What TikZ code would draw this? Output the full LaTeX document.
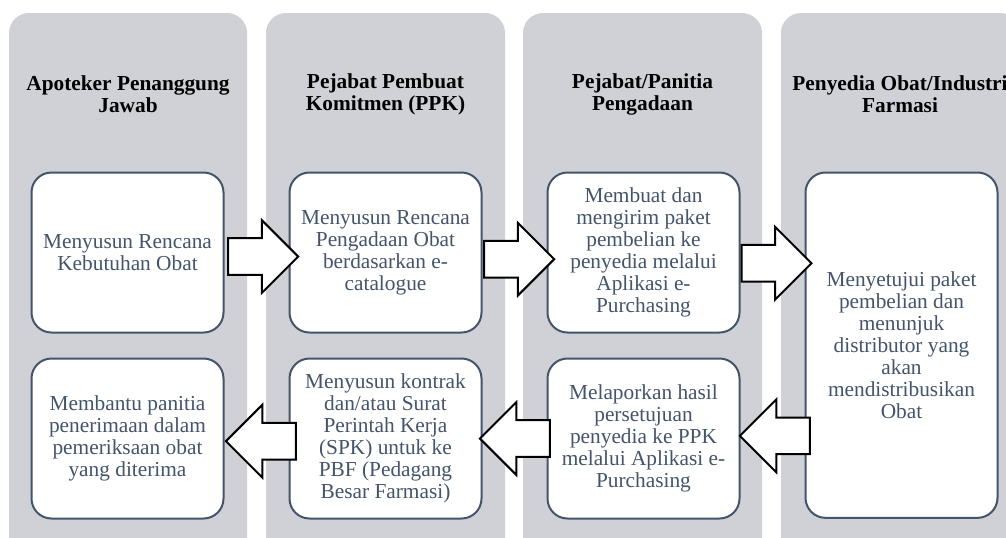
\documentclass[tikz,border=0pt]{standalone}
\usepackage{fontspec}
\setmainfont{Liberation Serif}
\usetikzlibrary{positioning,shapes.arrows}
\definecolor{lanegray}{RGB}{208,209,214}
\definecolor{slate}{RGB}{68,84,106}

\begin{document}
\begin{tikzpicture}[x=0.75pt,y=-0.75pt,
  lane/.style={fill=lanegray, rounded corners=15pt},
  head/.style={font=\fontsize{16}{16.5}\selectfont\bfseries, align=center},
  task/.style={draw=slate, line width=1.5pt, fill=white, rounded corners=15pt,
    text=slate, font=\fontsize{16}{16.5}\selectfont, align=center,
    minimum width=144pt, minimum height=120pt, inner sep=2pt},
  rarrow/.style={single arrow, draw=black, line width=1.5pt, fill=white,
    minimum height=52.5pt, single arrow head extend=13.5pt,
    inner xsep=0pt, inner ysep=13pt},
  larrow/.style={rarrow, shape border rotate=180}]

\useasboundingbox (0,0) rectangle (1006,537);
\clip (0,0) rectangle (1006,537);

% lanes
\fill[lane] (9,13) rectangle (247,580);
\fill[lane] (266,13) rectangle (505,580);
\fill[lane] (523,13) rectangle (762,580);
\fill[lane] (781,13) rectangle (1020,580);

% lane titles
\node[head] (hA) at (128,94) {Apoteker Penanggung\\Jawab};
\node[head] (hB) at (385.5,94) {Pejabat Pembuat\\Komitmen (PPK)};
\node[head] (hC) at (642.5,94) {Pejabat/Panitia\\Pengadaan};
\node[head] (hD) at (900,94) {Penyedia Obat/Industri\\Farmasi};

% steps
\node[task] (a1) at (127.5,252.5) {Menyusun Rencana\\Kebutuhan Obat};
\node[task, right=48pt of a1] (b1) {Menyusun Rencana\\Pengadaan Obat\\berdasarkan e-\\catalogue};
\node[task, right=48pt of b1] (c1) {Membuat dan\\mengirim paket\\pembelian ke\\penyedia melalui\\Aplikasi e-\\Purchasing};
\node[task, minimum height=259pt, anchor=north west] (d1) at ([xshift=48pt]c1.north east)
  {Menyetujui paket\\pembelian dan\\menunjuk\\distributor yang\\akan\\mendistribusikan\\Obat};
\node[task, below=18pt of c1] (c2) {Melaporkan hasil\\persetujuan\\penyedia ke PPK\\melalui Aplikasi e-\\Purchasing};
\node[task, below=18pt of b1] (b2) {Menyusun kontrak\\dan/atau Surat\\Perintah Kerja\\(SPK) untuk ke\\PBF (Pedagang\\Besar Farmasi)};
\node[task, below=18pt of a1] (a2) {Membantu panitia\\penerimaan dalam\\pemeriksaan obat\\yang diterima};

% block arrows
\node[rarrow, anchor=tail] (ab1) at ([xshift=2pt,yshift=-3pt]a1.east) {};
\node[rarrow, anchor=tail] (bc1) at ([xshift=0.5pt,yshift=-5pt]b1.east) {};
\node[rarrow, anchor=tail] (cd1) at ([yshift=-8pt]c1.east) {};
\node[larrow, anchor=tip] (dc2) at ([xshift=-1.5pt,yshift=2pt]c2.east) {};
\node[larrow, anchor=tip] (cb2) at ([xshift=-3pt]b2.east) {};
\node[larrow, anchor=tip] (ba2) at ([yshift=-2pt]a2.east) {};
\end{tikzpicture}
\end{document}
